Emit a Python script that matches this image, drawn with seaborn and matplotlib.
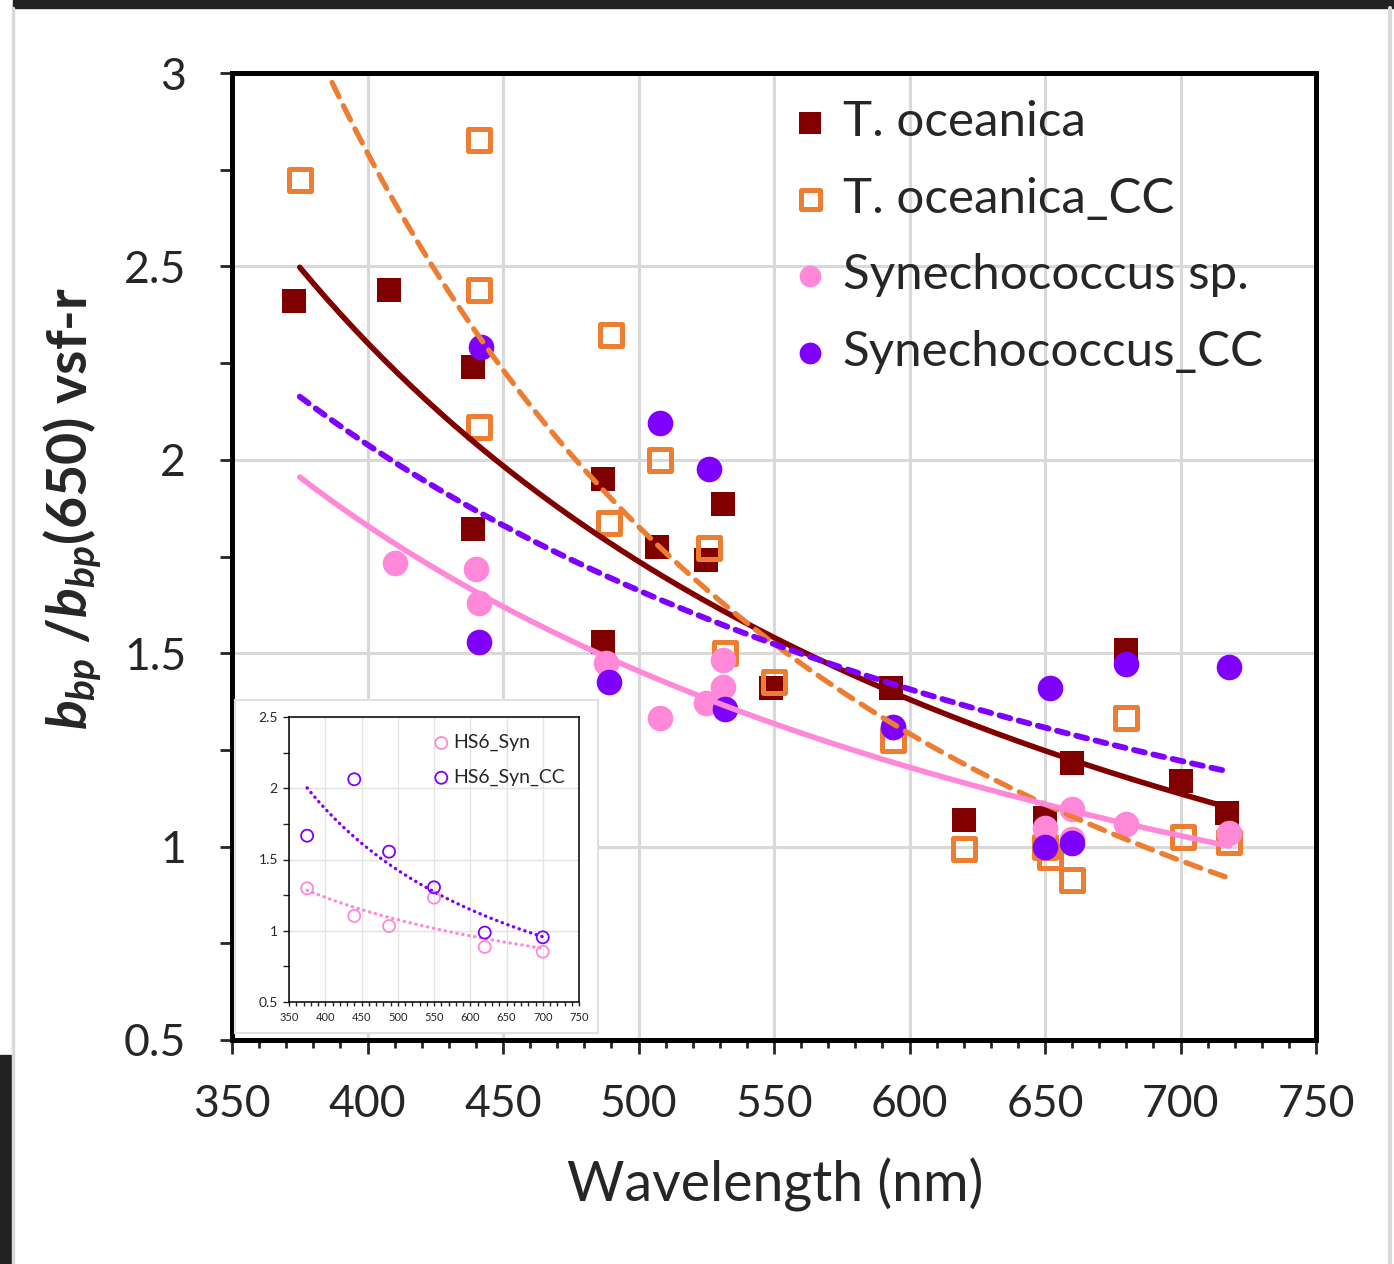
import numpy as np
import matplotlib
matplotlib.use("Agg")
import matplotlib.pyplot as plt
from matplotlib.ticker import MultipleLocator, FuncFormatter
from matplotlib.patches import Rectangle
from matplotlib.lines import Line2D
import seaborn as sns

sns.set_style("white")
plt.rcParams['font.family'] = ['Lato', 'DejaVu Sans']
plt.rcParams['mathtext.fontset'] = 'custom'
plt.rcParams['mathtext.it'] = 'Lato:italic:bold'
plt.rcParams['mathtext.rm'] = 'Lato:bold'

# ---- main chart data ----
toc_wl = [373, 408, 439, 439, 487, 487, 507, 525, 531, 549, 593, 620, 650, 660, 680, 700, 717]
toc_val = [2.41, 2.44, 2.24, 1.82, 1.95, 1.53, 1.775, 1.74, 1.886, 1.41, 1.41,
           1.069, 1.074, 1.216, 1.508, 1.17, 1.087]

toccc_wl = [375, 441, 441, 441, 490, 489, 508, 526, 532, 550, 594, 620, 650, 652, 660, 680, 701, 718]
toccc_val = [2.723, 2.827, 2.439, 2.085, 2.323, 1.837, 2.0, 1.772, 1.50, 1.426, 1.276,
             0.994, 0.999, 0.973, 0.914, 1.332, 1.025, 1.012]

syn_wl = [410, 440, 441, 488, 508, 525, 531, 531, 594, 650, 660, 660, 680, 718]
syn_val = [1.733, 1.718, 1.63, 1.475, 1.333, 1.371, 1.482, 1.413, 1.31, 1.048,
           1.097, 1.02, 1.058, 1.035]

syncc_wl = [442, 441, 489, 508, 526, 532, 594, 650, 652, 660, 680, 718]
syncc_val = [2.292, 1.529, 1.426, 2.095, 1.976, 1.356, 1.309, 0.999, 1.41, 1.009, 1.472, 1.464]

# ---- inset data ----
hs6_wl = [375, 440, 488, 550, 620, 700]
hs6_syn = [1.298, 1.104, 1.033, 1.232, 0.886, 0.853]
hs6_syncc = [1.667, 2.063, 1.555, 1.305, 0.987, 0.954]

c_toc = "#800000"
c_toccc = "#ED7D31"
c_syn = "#FF88D8"
c_syncc = "#7F00FF"


def power_fit(wl, val, grid):
    b, loga = np.polyfit(np.log(wl), np.log(val), 1)
    return np.exp(loga) * grid ** b


fig = plt.figure(figsize=(13.94, 12.64), dpi=100)

# screenshot frame bits
fig.add_artist(Rectangle((13 / 1394, 1 - 8 / 1264), 1, 8 / 1264, transform=fig.transFigure,
                         color="#222222", zorder=0))
fig.add_artist(Rectangle((0, 0), 11 / 1394, 209 / 1264, transform=fig.transFigure,
                         color="#222222", zorder=0))
fig.add_artist(Line2D([12.5 / 1394] * 2, [0, 1 - 8 / 1264], transform=fig.transFigure,
                      color="#d9d9d9", lw=2.5))
fig.add_artist(Line2D([1390 / 1394] * 2, [0, 1 - 8 / 1264], transform=fig.transFigure,
                      color="#d9d9d9", lw=3))

ax = fig.add_axes([232 / 1394, 1 - 1040 / 1264, 1084 / 1394, 967 / 1264])

sns.scatterplot(x=toc_wl, y=toc_val, ax=ax, marker="s", s=320, color=c_toc,
                linewidth=0, label="T. oceanica", zorder=3)
sns.scatterplot(x=toccc_wl, y=toccc_val, ax=ax, marker="s", s=250, facecolors="none",
                edgecolor=c_toccc, linewidth=3.6, label="T. oceanica_CC", zorder=3)
sns.scatterplot(x=syn_wl, y=syn_val, ax=ax, marker="o", s=340, color=c_syn,
                linewidth=0, label="Synechococcus sp.", zorder=3)
sns.scatterplot(x=syncc_wl, y=syncc_val, ax=ax, marker="o", s=340, color=c_syncc,
                linewidth=0, label="Synechococcus_CC", zorder=3)

grid = np.linspace(375, 718, 200)
sns.lineplot(x=grid, y=power_fit(toc_wl, toc_val, grid), ax=ax, color=c_toc, lw=4,
             zorder=4, solid_capstyle="round")
sns.lineplot(x=grid, y=power_fit(toccc_wl, toccc_val, grid), ax=ax, color=c_toccc, lw=3.8,
             linestyle=(0, (3, 1.9)), dash_capstyle="round", zorder=4)
sns.lineplot(x=grid, y=power_fit(syn_wl, syn_val, grid), ax=ax, color=c_syn, lw=4,
             zorder=4, solid_capstyle="round")
sns.lineplot(x=grid, y=power_fit(syncc_wl, syncc_val, grid), ax=ax, color=c_syncc, lw=4.2,
             linestyle=(0, (1.9, 1.5)), dash_capstyle="round", zorder=4)

ax.set_xlim(350, 750)
ax.set_ylim(0.5, 3)
ax.xaxis.set_major_locator(MultipleLocator(50))
ax.xaxis.set_minor_locator(MultipleLocator(10))
ax.yaxis.set_major_locator(MultipleLocator(0.5))
ax.yaxis.set_minor_locator(MultipleLocator(0.25))
ax.yaxis.set_major_formatter(FuncFormatter(lambda v, p: f"{v:g}"))
ax.grid(True, which="major", color="#d9d9d9", lw=2.2, zorder=0)
ax.set_axisbelow(True)
ax.tick_params(axis="x", which="major", direction="out", length=10, width=2,
               labelsize=32, pad=22, bottom=True)
ax.tick_params(axis="x", which="minor", direction="out", length=6, width=2, bottom=True)
ax.tick_params(axis="y", which="both", direction="out", length=9, width=2,
               labelsize=32, pad=24, left=True)
for sp in ax.spines.values():
    sp.set_color("black")
    sp.set_linewidth(3.6)
    sp.set_zorder(6)

ax.set_xlabel("Wavelength (nm)", fontsize=40)
ax.xaxis.set_label_coords(0.501, -0.122)
ax.set_ylabel(r"$b_{bp}$ /$b_{bp}$(650) vsf-r", fontsize=40, fontweight="bold")
ax.yaxis.set_label_coords(-0.118, 0.55)

ax.legend(loc="upper left", bbox_to_anchor=(0.52, 0.972), frameon=False, fontsize=35.5,
          handlelength=0.6, handletextpad=0.35, labelspacing=0.66, borderpad=0,
          borderaxespad=0, markerscale=0.85)

# ---- inset ----
box = fig.add_axes([235 / 1394, 1 - 1033 / 1264, 363 / 1394, 333 / 1264])
box.set_xticks([])
box.set_yticks([])
box.set_facecolor("white")
for sp in box.spines.values():
    sp.set_color("#e0e0e0")
    sp.set_linewidth(1.5)
box.set_zorder(10)

ins = fig.add_axes([289 / 1394, 1 - 1002 / 1264, 290 / 1394, 285 / 1264])
ins.set_zorder(11)
sns.scatterplot(x=hs6_wl, y=hs6_syn, ax=ins, marker="o", s=75, facecolors="none",
                edgecolor=c_syn, linewidth=1.3, label="HS6_Syn", zorder=3)
sns.scatterplot(x=hs6_wl, y=hs6_syncc, ax=ins, marker="o", s=75, facecolors="none",
                edgecolor=c_syncc, linewidth=1.3, label="HS6_Syn_CC", zorder=3)
igrid = np.linspace(375, 700, 100)
sns.lineplot(x=igrid, y=power_fit(hs6_wl, hs6_syn, igrid), ax=ins, color=c_syn, lw=2.4,
             linestyle=(0, (0.1, 1.7)), dash_capstyle="round", zorder=2)
sns.lineplot(x=igrid, y=power_fit(hs6_wl, hs6_syncc, igrid), ax=ins, color=c_syncc, lw=2.4,
             linestyle=(0, (0.1, 1.7)), dash_capstyle="round", zorder=2)
ins.set_xlim(350, 750)
ins.set_ylim(0.5, 2.5)
ins.xaxis.set_major_locator(MultipleLocator(50))
ins.xaxis.set_minor_locator(MultipleLocator(10))
ins.yaxis.set_major_locator(MultipleLocator(0.5))
ins.yaxis.set_minor_locator(MultipleLocator(0.25))
ins.yaxis.set_major_formatter(FuncFormatter(lambda v, p: f"{v:g}"))
ins.grid(True, which="major", color="#e3e3e3", lw=1)
ins.set_axisbelow(True)
ins.tick_params(axis="x", which="both", direction="out", length=3, width=1,
                labelsize=8, pad=4, bottom=True)
ins.tick_params(axis="y", which="both", direction="out", length=4, width=1,
                labelsize=10, pad=4, left=True)
for sp in ins.spines.values():
    sp.set_color("black")
    sp.set_linewidth(1.1)
ins.legend(loc="upper left", bbox_to_anchor=(0.505, 0.94), frameon=False, fontsize=14,
           handlelength=0.6, handletextpad=0.3, labelspacing=0.9, borderpad=0,
           borderaxespad=0)

fig.savefig("out.png", dpi=100)
